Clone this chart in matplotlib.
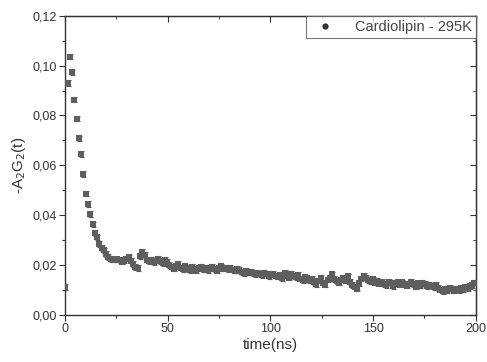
import numpy as np
import matplotlib
matplotlib.use("Agg")
import matplotlib.pyplot as plt
from matplotlib.ticker import MultipleLocator, FuncFormatter

plt.rcParams['font.family'] = ['Liberation Sans', 'DejaVu Sans']

# time axis (ns): first point at 0, then regular sampling
t0 = [0.0]
v0 = [0.0112]
times = list(np.round(1.3 + 1.1 * np.arange(181), 2))
values = [
    0.0930, 0.1036, 0.0973, 0.0864, 0.0787, 0.0708, 0.0645, 0.0565,
    0.0487, 0.0444, 0.0405, 0.0363, 0.0329, 0.0311, 0.0285, 0.0269, 0.0259, 0.0244, 0.0233, 0.0225, 0.0222,
    0.0222, 0.0223, 0.0221, 0.0214, 0.0219, 0.0226, 0.0231, 0.0218, 0.0205, 0.0192,
    0.0188, 0.0235, 0.0252, 0.0241, 0.0222, 0.0215, 0.0220, 0.0211, 0.0218, 0.0224,
    0.0216, 0.0208, 0.0222, 0.0213, 0.0200, 0.0193, 0.0186, 0.0197, 0.0204, 0.0190,
    0.0183, 0.0195, 0.0188, 0.0180, 0.0192, 0.0186, 0.0178, 0.0189, 0.0194, 0.0183,
    0.0190, 0.0180, 0.0186, 0.0193, 0.0184, 0.0178, 0.0188, 0.0195, 0.0186, 0.0190,
    0.0184, 0.0189, 0.0182, 0.0178, 0.0185, 0.0180, 0.0172, 0.0168, 0.0176, 0.0171,
    0.0174, 0.0167, 0.0163, 0.0170, 0.0166, 0.0160, 0.0168, 0.0163, 0.0157, 0.0162,
    0.0166, 0.0158, 0.0154, 0.0162, 0.0148, 0.0170, 0.0158, 0.0150, 0.0164, 0.0157,
    0.0152, 0.0160, 0.0146, 0.0140, 0.0151, 0.0147, 0.0139, 0.0146, 0.0132, 0.0125,
    0.0138, 0.0148, 0.0130, 0.0122, 0.0142, 0.0150, 0.0163, 0.0144, 0.0137, 0.0130,
    0.0142, 0.0147, 0.0138, 0.0155, 0.0133, 0.0120, 0.0114, 0.0106, 0.0128, 0.0146,
    0.0156, 0.0150, 0.0141, 0.0135, 0.0143, 0.0130, 0.0138, 0.0126, 0.0132, 0.0124,
    0.0120, 0.0132, 0.0127, 0.0115, 0.0128, 0.0134, 0.0122, 0.0131, 0.0125, 0.0118,
    0.0126, 0.0132, 0.0123, 0.0114, 0.0127, 0.0120, 0.0129, 0.0124, 0.0117, 0.0122,
    0.0118, 0.0113, 0.0120, 0.0108, 0.0102, 0.0095, 0.0105, 0.0098, 0.0110, 0.0103,
    0.0098, 0.0106, 0.0101, 0.0108, 0.0104, 0.0112, 0.0107, 0.0115, 0.0121, 0.0130,
]
err = 0.0011

x_ticks = [0, 50, 100, 150, 200]
y_ticks = [0.00, 0.02, 0.04, 0.06, 0.08, 0.10, 0.12]

fig = plt.figure(figsize=(4.87, 3.62), dpi=100)
ax = fig.add_axes([0.1335, 0.130, 0.8435, 0.8265])

tx = t0 + times
vy = v0 + values
ax.errorbar(tx, vy, yerr=err, fmt='none', ecolor='#5a5a5a', elinewidth=0.8,
            capsize=1.8, capthick=0.8, zorder=2)
ax.plot(tx, vy, linestyle='none', marker='s', markersize=3.8,
        color='#5e5e5e', markeredgewidth=0, zorder=3)
ax.plot([], [], linestyle='none', marker='o', markersize=3.5, color='#333333',
        label='Cardiolipin - 295K')

ax.set_xlim(0, 200)
ax.set_ylim(0, 0.12)
ax.set_xticks(x_ticks)
ax.set_yticks(y_ticks)
ax.xaxis.set_minor_locator(MultipleLocator(25))
ax.yaxis.set_minor_locator(MultipleLocator(0.01))
ax.yaxis.set_major_formatter(FuncFormatter(lambda v, p: f"{v:.2f}".replace('.', ',')))

for s in ax.spines.values():
    s.set_color('#333333')
    s.set_linewidth(1.0)

ax.tick_params(axis='both', which='major', direction='out', length=4, width=0.8,
               color='#333333', labelsize=9, labelcolor='#333333', pad=2)
ax.tick_params(axis='both', which='minor', direction='out', length=2.5, width=0.8,
               color='#333333')
ax2 = ax.secondary_xaxis('top')
ax2.set_xticks(x_ticks)
ax2.xaxis.set_minor_locator(MultipleLocator(25))
ax2.tick_params(which='both', direction='in', labeltop=False, color='#333333')
ax2.tick_params(which='major', length=4)
ax2.tick_params(which='minor', length=2.5)
ax2.set_xticklabels([])
ax3 = ax.secondary_yaxis('right')
ax3.set_yticks(y_ticks)
ax3.yaxis.set_minor_locator(MultipleLocator(0.01))
ax3.tick_params(which='both', direction='in', color='#333333')
ax3.tick_params(which='major', length=4)
ax3.tick_params(which='minor', length=2.5)
ax3.set_yticklabels([])

ax.set_xlabel('time(ns)', fontsize=11, color='#333333', labelpad=2)
ax.set_ylabel(r'-A$_2$G$_2$(t)', fontsize=11, color='#333333', labelpad=3)

leg = ax.legend(loc='upper right', fontsize=10.5, frameon=True, fancybox=False,
                borderaxespad=0.0, handletextpad=1.0, borderpad=0.3,
                handlelength=2.0)
leg.get_frame().set_edgecolor('#555555')
leg.get_frame().set_linewidth(0.8)
for txt in leg.get_texts():
    txt.set_color('#444444')

fig.savefig('out.png', dpi=100)
